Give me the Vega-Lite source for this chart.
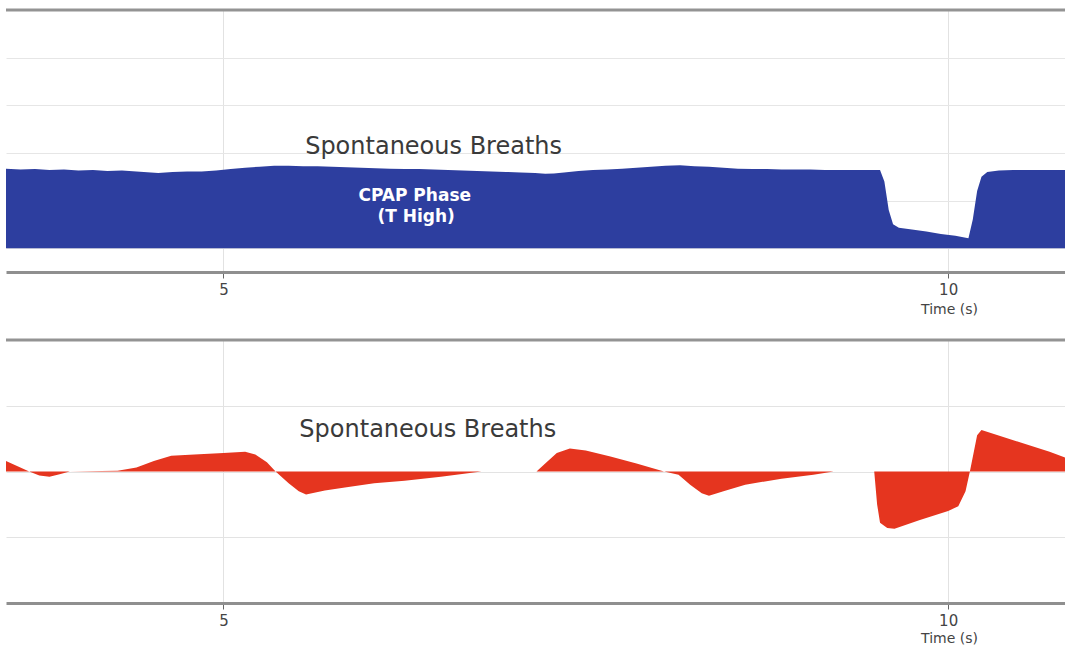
{
  "$schema": "https://vega.github.io/schema/vega-lite/v6.json",
  "padding": {"left": 4, "top": 8, "right": 0, "bottom": 0},
  "background": "white",
  "spacing": 22,
  "config": {"view": {"stroke": null}, "font": "Liberation Sans"},
  "datasets": {
    "pressure": [
      {"t": 3.50, "v": 16.7}, {"t": 3.60, "v": 16.5}, {"t": 3.70, "v": 16.6}, {"t": 3.80, "v": 16.4},
      {"t": 3.90, "v": 16.5}, {"t": 4.00, "v": 16.3}, {"t": 4.10, "v": 16.4}, {"t": 4.20, "v": 16.2},
      {"t": 4.30, "v": 16.3}, {"t": 4.40, "v": 16.1}, {"t": 4.50, "v": 15.9}, {"t": 4.55, "v": 15.8},
      {"t": 4.65, "v": 16.0}, {"t": 4.75, "v": 16.1}, {"t": 4.85, "v": 16.1}, {"t": 4.95, "v": 16.3},
      {"t": 5.05, "v": 16.6}, {"t": 5.15, "v": 16.9}, {"t": 5.25, "v": 17.1}, {"t": 5.35, "v": 17.3},
      {"t": 5.45, "v": 17.3}, {"t": 5.55, "v": 17.2}, {"t": 5.65, "v": 17.2}, {"t": 5.75, "v": 17.1},
      {"t": 5.85, "v": 17.0}, {"t": 5.95, "v": 16.9}, {"t": 6.05, "v": 16.8}, {"t": 6.15, "v": 16.7},
      {"t": 6.25, "v": 16.6}, {"t": 6.35, "v": 16.6}, {"t": 6.45, "v": 16.5}, {"t": 6.55, "v": 16.4},
      {"t": 6.65, "v": 16.3}, {"t": 6.75, "v": 16.2}, {"t": 6.85, "v": 16.1}, {"t": 6.95, "v": 16.0},
      {"t": 7.05, "v": 15.9}, {"t": 7.15, "v": 15.8}, {"t": 7.22, "v": 15.6}, {"t": 7.28, "v": 15.7},
      {"t": 7.35, "v": 15.9}, {"t": 7.45, "v": 16.2}, {"t": 7.55, "v": 16.4}, {"t": 7.65, "v": 16.5},
      {"t": 7.75, "v": 16.7}, {"t": 7.85, "v": 16.9}, {"t": 7.95, "v": 17.1}, {"t": 8.05, "v": 17.3},
      {"t": 8.15, "v": 17.4}, {"t": 8.25, "v": 17.2}, {"t": 8.35, "v": 17.1}, {"t": 8.45, "v": 16.9},
      {"t": 8.55, "v": 16.7}, {"t": 8.65, "v": 16.6}, {"t": 8.75, "v": 16.6}, {"t": 8.85, "v": 16.5},
      {"t": 8.95, "v": 16.5}, {"t": 9.05, "v": 16.5}, {"t": 9.15, "v": 16.4}, {"t": 9.25, "v": 16.4},
      {"t": 9.35, "v": 16.4}, {"t": 9.45, "v": 16.4}, {"t": 9.53, "v": 16.4}, {"t": 9.56, "v": 14.0},
      {"t": 9.59, "v": 8.0}, {"t": 9.62, "v": 5.0}, {"t": 9.66, "v": 4.3}, {"t": 9.75, "v": 3.9},
      {"t": 9.85, "v": 3.5}, {"t": 9.95, "v": 3.0}, {"t": 10.05, "v": 2.6}, {"t": 10.14, "v": 2.1},
      {"t": 10.17, "v": 6.0}, {"t": 10.20, "v": 12.0}, {"t": 10.23, "v": 15.0}, {"t": 10.27, "v": 16.0},
      {"t": 10.35, "v": 16.3}, {"t": 10.45, "v": 16.4}, {"t": 10.55, "v": 16.4}, {"t": 10.65, "v": 16.4},
      {"t": 10.75, "v": 16.4}, {"t": 10.82, "v": 16.4}
    ],
    "flow": [
      {"t": 3.50, "v": 0.16}, {"t": 3.58, "v": 0.08}, {"t": 3.66, "v": 0.0}, {"t": 3.73, "v": -0.06},
      {"t": 3.80, "v": -0.08}, {"t": 3.87, "v": -0.04}, {"t": 3.94, "v": 0.0}, {"t": 4.27, "v": 0.01},
      {"t": 4.40, "v": 0.06}, {"t": 4.52, "v": 0.16}, {"t": 4.64, "v": 0.24}, {"t": 4.80, "v": 0.26},
      {"t": 5.00, "v": 0.28}, {"t": 5.15, "v": 0.30}, {"t": 5.22, "v": 0.26}, {"t": 5.30, "v": 0.14},
      {"t": 5.36, "v": 0.0}, {"t": 5.45, "v": -0.18}, {"t": 5.52, "v": -0.30}, {"t": 5.57, "v": -0.35},
      {"t": 5.70, "v": -0.29}, {"t": 5.85, "v": -0.24}, {"t": 6.04, "v": -0.18}, {"t": 6.25, "v": -0.14},
      {"t": 6.50, "v": -0.08}, {"t": 6.78, "v": 0.0}, {"t": 7.16, "v": 0.0}, {"t": 7.22, "v": 0.12},
      {"t": 7.30, "v": 0.28}, {"t": 7.39, "v": 0.35}, {"t": 7.50, "v": 0.32}, {"t": 7.67, "v": 0.23},
      {"t": 7.85, "v": 0.12}, {"t": 8.04, "v": 0.0}, {"t": 8.14, "v": -0.05}, {"t": 8.22, "v": -0.20},
      {"t": 8.30, "v": -0.33}, {"t": 8.35, "v": -0.37}, {"t": 8.45, "v": -0.30}, {"t": 8.60, "v": -0.20},
      {"t": 8.85, "v": -0.11}, {"t": 9.07, "v": -0.05}, {"t": 9.21, "v": 0.0}, {"t": 9.49, "v": 0.0},
      {"t": 9.51, "v": -0.50}, {"t": 9.53, "v": -0.78}, {"t": 9.58, "v": -0.86}, {"t": 9.63, "v": -0.87},
      {"t": 9.80, "v": -0.74}, {"t": 10.00, "v": -0.60}, {"t": 10.07, "v": -0.53}, {"t": 10.12, "v": -0.30},
      {"t": 10.15, "v": 0.0}, {"t": 10.20, "v": 0.55}, {"t": 10.23, "v": 0.63}, {"t": 10.30, "v": 0.58},
      {"t": 10.50, "v": 0.44}, {"t": 10.70, "v": 0.30}, {"t": 10.82, "v": 0.20}
    ],
    "topDark": [{"t": 6.45, "v": 21.3, "label": "Spontaneous Breaths"}],
    "topWhite": [
      {"t": 6.32, "v": 11.0, "label": "CPAP Phase"},
      {"t": 6.33, "v": 6.6, "label": "(T High)"}
    ],
    "botDark": [{"t": 6.41, "v": 0.63, "label": "Spontaneous Breaths"}],
    "one": [{"k": 1}]
  },
  "vconcat": [
    {
      "width": 1061,
      "height": 262,
      "layer": [
        {
          "data": {"name": "pressure"},
          "mark": {"type": "area", "color": "#2D3E9F", "interpolate": "linear"},
          "encoding": {
            "x": {
              "field": "t", "type": "quantitative",
              "scale": {"domain": [3.5, 10.82], "nice": false, "zero": false},
              "axis": {
                "values": [5, 10], "format": "d", "grid": true, "gridColor": "#e2e2e2",
                "domainColor": "#8f8f8f", "domainWidth": 3,
                "tickColor": "#666", "tickSize": 6, "labelPadding": 4,
                "labelFontSize": 15, "labelColor": "#444", "labelFont": "DejaVu Sans",
                "title": "Time (s)", "titleX": 943, "titleY": 37, "titleAlign": "center",
                "titleBaseline": "middle", "titleFontSize": 14, "titleFontWeight": "normal",
                "titleColor": "#444", "titleFont": "DejaVu Sans"
              }
            },
            "y": {
              "field": "v", "type": "quantitative",
              "scale": {"domain": [-5, 50], "nice": false},
              "axis": {
                "values": [0, 10, 20, 30, 40], "grid": true, "gridColor": "#e6e6e6",
                "labels": false, "ticks": false, "domain": false, "title": null
              }
            }
          }
        },
        {
          "data": {"name": "one"},
          "mark": {"type": "rule", "color": "#939393", "strokeWidth": 3},
          "encoding": {"y": {"datum": 50}}
        },
        {
          "data": {"name": "topDark"},
          "mark": {"type": "text", "font": "DejaVu Sans", "fontSize": 24, "color": "#3a3a3a", "align": "center", "baseline": "middle"},
          "encoding": {
            "x": {"field": "t", "type": "quantitative"},
            "y": {"field": "v", "type": "quantitative"},
            "text": {"field": "label"}
          }
        },
        {
          "data": {"name": "topWhite"},
          "mark": {"type": "text", "font": "DejaVu Sans", "fontSize": 17, "fontWeight": "bold", "color": "#ffffff", "align": "center", "baseline": "middle"},
          "encoding": {
            "x": {"field": "t", "type": "quantitative"},
            "y": {"field": "v", "type": "quantitative"},
            "text": {"field": "label"}
          }
        }
      ]
    },
    {
      "width": 1061,
      "height": 263,
      "layer": [
        {
          "data": {"name": "flow"},
          "mark": {"type": "area", "color": "#E5351F", "interpolate": "linear"},
          "encoding": {
            "x": {
              "field": "t", "type": "quantitative",
              "scale": {"domain": [3.5, 10.82], "nice": false, "zero": false},
              "axis": {
                "values": [5, 10], "format": "d", "grid": true, "gridColor": "#e2e2e2",
                "domainColor": "#8f8f8f", "domainWidth": 3,
                "tickColor": "#666", "tickSize": 6, "labelPadding": 4,
                "labelFontSize": 15, "labelColor": "#444", "labelFont": "DejaVu Sans",
                "title": "Time (s)", "titleX": 943, "titleY": 35, "titleAlign": "center",
                "titleBaseline": "middle", "titleFontSize": 14, "titleFontWeight": "normal",
                "titleColor": "#444", "titleFont": "DejaVu Sans"
              }
            },
            "y": {
              "field": "v", "type": "quantitative",
              "scale": {"domain": [-2, 2], "nice": false},
              "axis": {
                "values": [-1, 0, 1], "grid": true, "gridColor": "#e3e3e3",
                "labels": false, "ticks": false, "domain": false, "title": null
              }
            },
            "y2": {"datum": 0}
          }
        },
        {
          "data": {"name": "one"},
          "mark": {"type": "rule", "color": "#939393", "strokeWidth": 3},
          "encoding": {"y": {"datum": 2}}
        },
        {
          "data": {"name": "botDark"},
          "mark": {"type": "text", "font": "DejaVu Sans", "fontSize": 24, "color": "#3a3a3a", "align": "center", "baseline": "middle"},
          "encoding": {
            "x": {"field": "t", "type": "quantitative"},
            "y": {"field": "v", "type": "quantitative"},
            "text": {"field": "label"}
          }
        }
      ]
    }
  ]
}
